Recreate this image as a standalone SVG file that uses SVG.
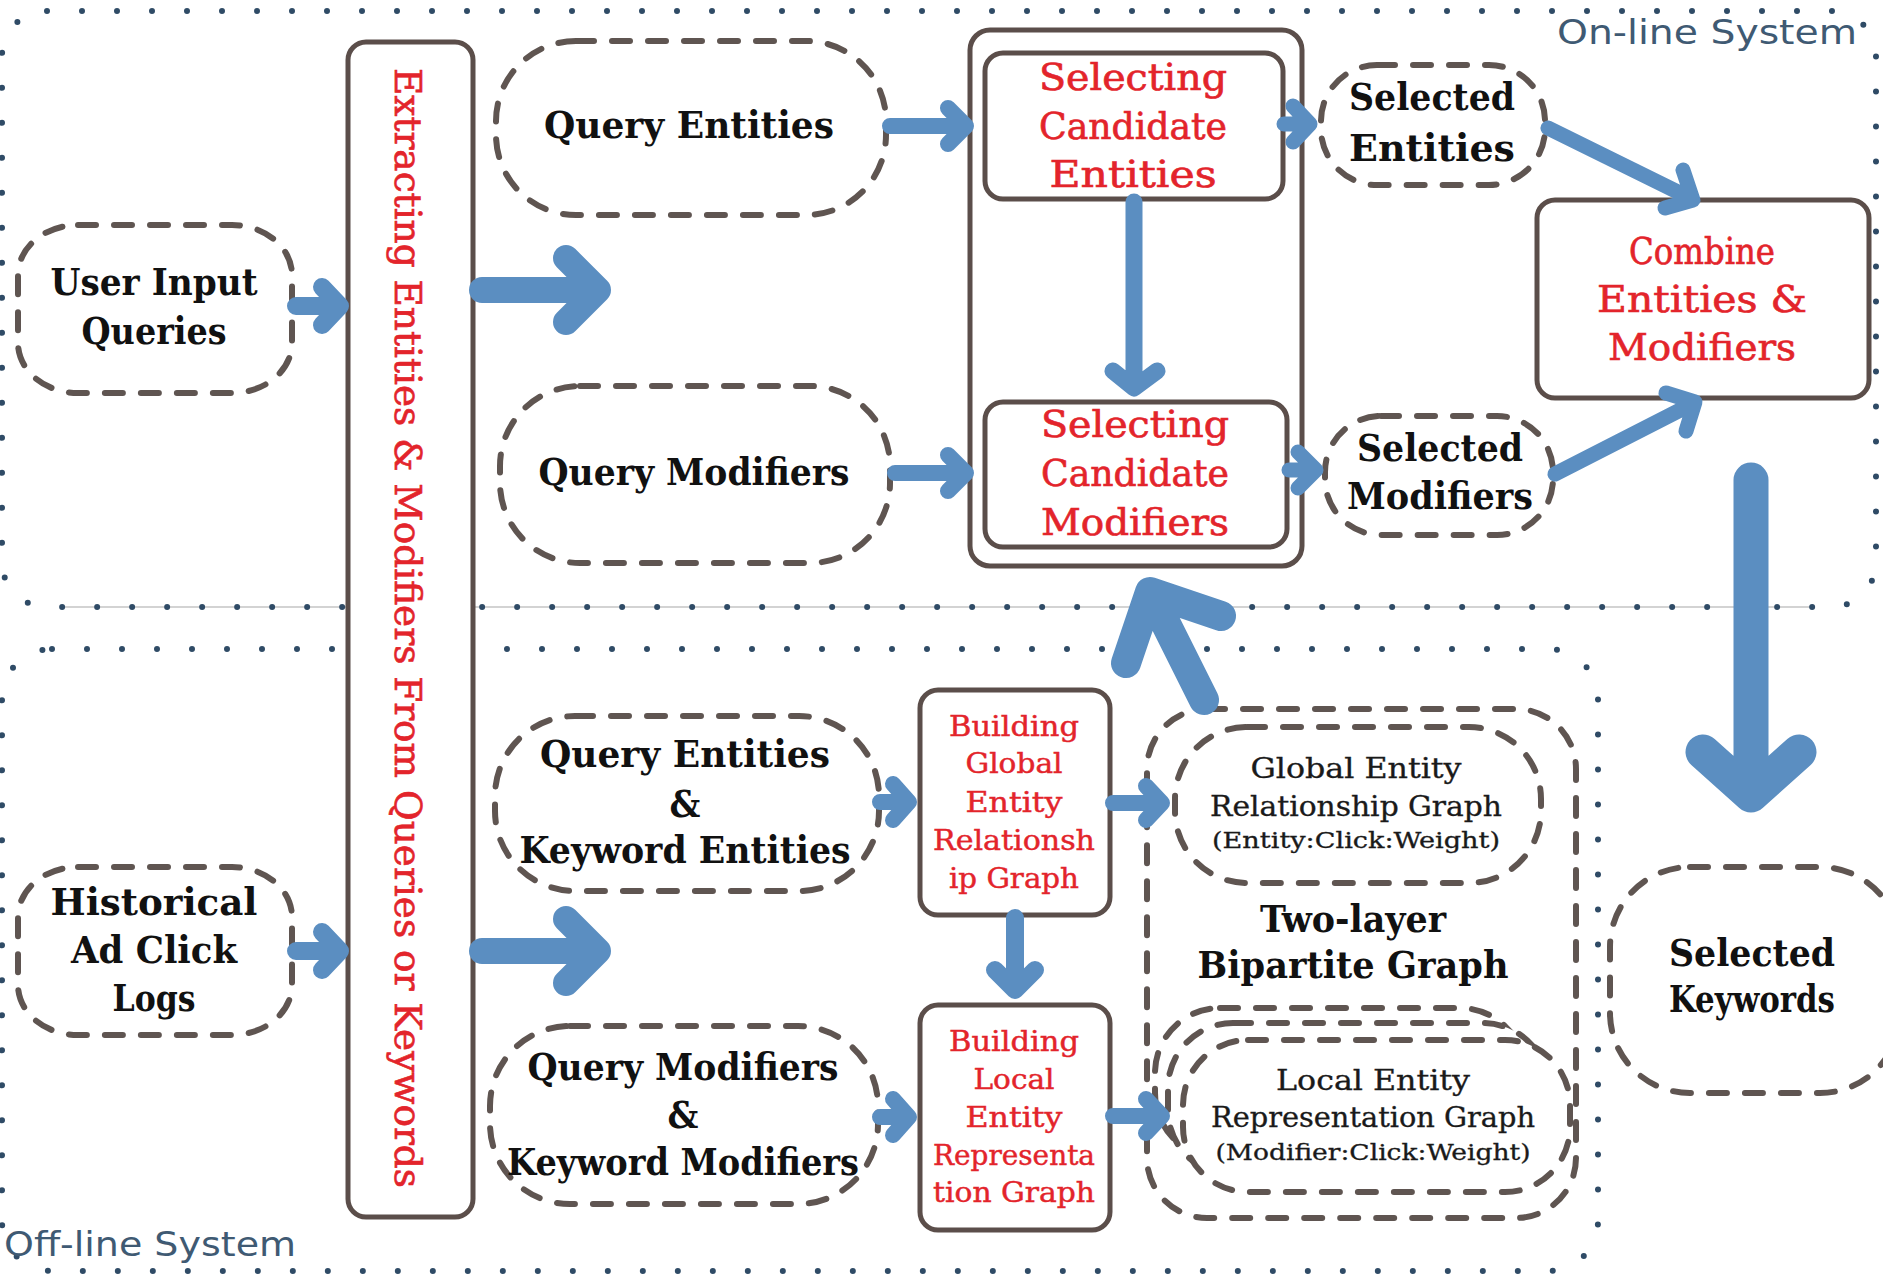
<svg xmlns="http://www.w3.org/2000/svg" width="1883" height="1276" viewBox="0 0 1883 1276">
<style>
.region{fill:none;stroke:#2f4b66;stroke-width:6;stroke-dasharray:0 35;stroke-linecap:round}
.guide{fill:none;stroke:#c4c4c4;stroke-width:1.5}
.lbl{font-family:"DejaVu Sans","Liberation Sans",sans-serif;font-size:34px;fill:#3f5a73}
.dash{fill:#fff;stroke:#5f5551;stroke-width:6;stroke-dasharray:18 18;stroke-linecap:round}
.solid{fill:#fff;stroke:#5b4e4a;stroke-width:5}
.t{font-family:"DejaVu Serif","Liberation Serif",serif;font-stretch:condensed;text-anchor:middle}
.b{font-weight:bold;font-size:38px;fill:#111}
.r{font-size:38px;fill:#e3242b;stroke:#e3242b;stroke-width:0.6}
.rs{font-size:27px;fill:#e3242b;stroke:#e3242b;stroke-width:0.4}
.g{font-size:27px;fill:#1a1a1a;stroke:#1a1a1a;stroke-width:0.3}
.gx{font-size:23px;fill:#1a1a1a;stroke:#1a1a1a;stroke-width:0.3}
.arr path{fill:none;stroke:#5b8ec1;stroke-linecap:round;stroke-linejoin:round}
</style>

<g id="regions">
<line class="guide" x1="65" y1="607" x2="1810" y2="607"/>
<rect class="region" x="2" y="11" width="1874" height="596" rx="45"/>
<rect class="region" x="2" y="649" width="1596" height="622" rx="50"/>
<text class="lbl" x="1557" y="44" textLength="300" lengthAdjust="spacingAndGlyphs">On-line System</text>
<text class="lbl" x="4" y="1256" textLength="292" lengthAdjust="spacingAndGlyphs">Off-line System</text>
</g>

<g id="user-input-queries">
<rect class="dash" x="18" y="225" width="274" height="168" rx="60" ry="50"/>
<text class="t b" x="154" y="295" textLength="207" lengthAdjust="spacingAndGlyphs">User Input</text>
<text class="t b" x="154" y="344" textLength="145" lengthAdjust="spacingAndGlyphs">Queries</text>
</g>

<g id="historical-ad-click-logs">
<rect class="dash" x="18" y="867" width="274" height="168" rx="60" ry="50"/>
<text class="t b" x="154" y="915" textLength="207" lengthAdjust="spacingAndGlyphs">Historical</text>
<text class="t b" x="154" y="963" textLength="166" lengthAdjust="spacingAndGlyphs">Ad Click</text>
<text class="t b" x="154" y="1011" textLength="83" lengthAdjust="spacingAndGlyphs">Logs</text>
</g>

<g id="extracting">
<rect class="solid" x="348" y="42" width="125" height="1175" rx="18"/>
<text class="t r" transform="translate(395,628) rotate(90)" x="0" y="0" textLength="1120" lengthAdjust="spacingAndGlyphs">Extracting Entities &amp; Modifiers From Queries or Keywords</text>
</g>

<g id="query-entities">
<rect class="dash" x="496" y="41" width="390" height="174" rx="80"/>
<text class="t b" x="689" y="138" textLength="290" lengthAdjust="spacingAndGlyphs">Query Entities</text>
</g>

<g id="query-modifiers">
<rect class="dash" x="500" y="386" width="390" height="177" rx="80"/>
<text class="t b" x="694" y="485" textLength="311" lengthAdjust="spacingAndGlyphs">Query Modifiers</text>
</g>

<g id="selecting-group">
<rect class="solid" x="970" y="30" width="332" height="536" rx="20"/>
</g>

<g id="selecting-candidate-entities">
<rect class="solid" x="985" y="53" width="298" height="146" rx="18"/>
<text class="t r" x="1133" y="90" textLength="188" lengthAdjust="spacingAndGlyphs">Selecting</text>
<text class="t r" x="1133" y="139" textLength="188" lengthAdjust="spacingAndGlyphs">Candidate</text>
<text class="t r" x="1133" y="187" textLength="167" lengthAdjust="spacingAndGlyphs">Entities</text>
</g>

<g id="selecting-candidate-modifiers">
<rect class="solid" x="985" y="402" width="302" height="145" rx="18"/>
<text class="t r" x="1135" y="437" textLength="188" lengthAdjust="spacingAndGlyphs">Selecting</text>
<text class="t r" x="1135" y="486" textLength="188" lengthAdjust="spacingAndGlyphs">Candidate</text>
<text class="t r" x="1135" y="535" textLength="188" lengthAdjust="spacingAndGlyphs">Modifiers</text>
</g>

<g id="selected-entities">
<rect class="dash" x="1321" y="65" width="224" height="120" rx="56"/>
<text class="t b" x="1432" y="110" textLength="166" lengthAdjust="spacingAndGlyphs">Selected</text>
<text class="t b" x="1432" y="161" textLength="166" lengthAdjust="spacingAndGlyphs">Entities</text>
</g>

<g id="selected-modifiers">
<rect class="dash" x="1325" y="416" width="228" height="119" rx="56"/>
<text class="t b" x="1440" y="461" textLength="166" lengthAdjust="spacingAndGlyphs">Selected</text>
<text class="t b" x="1440" y="509" textLength="186" lengthAdjust="spacingAndGlyphs">Modifiers</text>
</g>

<g id="combine">
<rect class="solid" x="1537" y="200" width="332" height="198" rx="18"/>
<text class="t r" x="1702" y="264" textLength="146" lengthAdjust="spacingAndGlyphs">Combine</text>
<text class="t r" x="1702" y="312" textLength="210" lengthAdjust="spacingAndGlyphs">Entities &amp;</text>
<text class="t r" x="1702" y="360" textLength="188" lengthAdjust="spacingAndGlyphs">Modifiers</text>
</g>

<g id="selected-keywords">
<rect class="dash" x="1610" y="867" width="290" height="226" rx="80"/>
<text class="t b" x="1752" y="966" textLength="166" lengthAdjust="spacingAndGlyphs">Selected</text>
<text class="t b" x="1752" y="1012" textLength="166" lengthAdjust="spacingAndGlyphs">Keywords</text>
</g>

<g id="query-keyword-entities">
<rect class="dash" x="495" y="716" width="384" height="175" rx="80"/>
<text class="t b" x="685" y="767" textLength="290" lengthAdjust="spacingAndGlyphs">Query Entities</text>
<text class="t b" x="685" y="817">&amp;</text>
<text class="t b" x="685" y="863" textLength="331" lengthAdjust="spacingAndGlyphs">Keyword Entities</text>
</g>

<g id="query-keyword-modifiers">
<rect class="dash" x="490" y="1026" width="388" height="178" rx="80"/>
<text class="t b" x="683" y="1080" textLength="311" lengthAdjust="spacingAndGlyphs">Query Modifiers</text>
<text class="t b" x="683" y="1128">&amp;</text>
<text class="t b" x="683" y="1175" textLength="352" lengthAdjust="spacingAndGlyphs">Keyword Modifiers</text>
</g>

<g id="building-global">
<rect class="solid" x="920" y="690" width="190" height="225" rx="18"/>
<text class="t rs" x="1014" y="736" textLength="130" lengthAdjust="spacingAndGlyphs">Building</text>
<text class="t rs" x="1014" y="773" textLength="97" lengthAdjust="spacingAndGlyphs">Global</text>
<text class="t rs" x="1014" y="812" textLength="97" lengthAdjust="spacingAndGlyphs">Entity</text>
<text class="t rs" x="1014" y="850" textLength="162" lengthAdjust="spacingAndGlyphs">Relationsh</text>
<text class="t rs" x="1014" y="888" textLength="130" lengthAdjust="spacingAndGlyphs">ip Graph</text>
</g>

<g id="building-local">
<rect class="solid" x="920" y="1005" width="190" height="225" rx="18"/>
<text class="t rs" x="1014" y="1051" textLength="130" lengthAdjust="spacingAndGlyphs">Building</text>
<text class="t rs" x="1014" y="1089" textLength="81" lengthAdjust="spacingAndGlyphs">Local</text>
<text class="t rs" x="1014" y="1127" textLength="97" lengthAdjust="spacingAndGlyphs">Entity</text>
<text class="t rs" x="1014" y="1165" textLength="162" lengthAdjust="spacingAndGlyphs">Representa</text>
<text class="t rs" x="1014" y="1202" textLength="162" lengthAdjust="spacingAndGlyphs">tion Graph</text>
</g>

<g id="two-layer-bipartite-graph">
<rect class="dash" x="1147" y="709" width="429" height="509" rx="60"/>
<text class="t b" x="1353" y="932" textLength="186" lengthAdjust="spacingAndGlyphs">Two-layer</text>
<text class="t b" x="1353" y="978" textLength="311" lengthAdjust="spacingAndGlyphs">Bipartite Graph</text>
</g>

<g id="global-entity-relationship-graph">
<rect class="dash" x="1175" y="727" width="366" height="156" rx="72"/>
<text class="t g" x="1356" y="778" textLength="211" lengthAdjust="spacingAndGlyphs">Global Entity</text>
<text class="t g" x="1356" y="816" textLength="292" lengthAdjust="spacingAndGlyphs">Relationship Graph</text>
<text class="t gx" x="1356" y="848" textLength="288" lengthAdjust="spacingAndGlyphs">(Entity:Click:Weight)</text>
</g>

<g id="local-entity-representation-graph">
<rect class="dash" x="1155" y="1008" width="370" height="150" rx="65"/>
<rect class="dash" x="1168" y="1023" width="380" height="152" rx="65"/>
<rect class="dash" x="1183" y="1040" width="387" height="152" rx="65"/>
<text class="t g" x="1373" y="1090" textLength="194" lengthAdjust="spacingAndGlyphs">Local Entity</text>
<text class="t g" x="1373" y="1127" textLength="324" lengthAdjust="spacingAndGlyphs">Representation Graph</text>
<text class="t gx" x="1373" y="1160" textLength="315" lengthAdjust="spacingAndGlyphs">(Modifier:Click:Weight)</text>
</g>

<g id="connectors" class="arr">
<path stroke-width="18" d="M296,306 H338 M322,287 L340,306 L322,325"/>
<path stroke-width="18" d="M296,951 H338 M322,932 L340,951 L322,970"/>
<path stroke-width="26" d="M482,290 H595 M566,258 L598,290 L566,322"/>
<path stroke-width="26" d="M482,951 H595 M566,919 L598,951 L566,983"/>
<path stroke-width="16" d="M890,126 H962 M948,108 L966,126 L948,144"/>
<path stroke-width="16" d="M895,473 H962 M948,455 L966,473 L948,491"/>
<path stroke-width="15" d="M1284,124 H1305 M1293,106 L1310,124 L1293,142"/>
<path stroke-width="15" d="M1289,470 H1310 M1298,452 L1316,470 L1298,488"/>
<path stroke-width="15" d="M1548,128 L1690,198 M1683,170 L1693,200 L1665,208"/>
<path stroke-width="15" d="M1555,474 L1692,404 M1666,393 L1695,402 L1686,431"/>
<path stroke-width="17" d="M1134,202 V384 M1113,371 L1134,388 L1157,371"/>
<path stroke-width="18" d="M1015,918 V986 M995,970 L1015,990 L1035,970"/>
<path stroke-width="16" d="M1113,803 H1158 M1146,786 L1162,803 L1146,820"/>
<path stroke-width="16" d="M1113,1116 H1158 M1146,1099 L1162,1116 L1146,1133"/>
<path stroke-width="16" d="M880,802 H905 M893,784 L909,802 L893,820"/>
<path stroke-width="16" d="M880,1117 H905 M893,1099 L909,1117 L893,1135"/>
<path stroke-width="35" d="M1751,480 V790 M1703,752 L1751,795 L1799,752"/>
<path stroke-width="30" d="M1204,700 L1152,596 M1126,663 L1150,592 L1221,616"/>
</g>
</svg>
